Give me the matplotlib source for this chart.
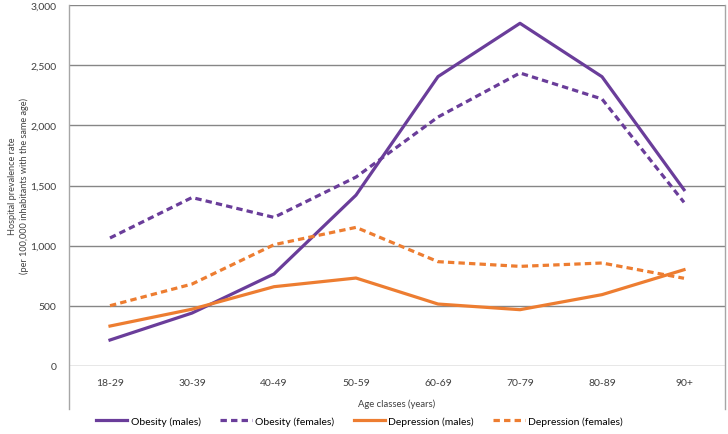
import matplotlib
matplotlib.use("Agg")
import matplotlib.pyplot as plt

plt.rcParams['font.family'] = ['Lato', 'DejaVu Sans']

age_classes = ["18-29", "30-39", "40-49", "50-59", "60-69", "70-79", "80-89", "90+"]
obesity_males = [216, 440, 765, 1420, 2405, 2848, 2404, 1465]
obesity_females = [1064, 1400, 1235, 1570, 2069, 2435, 2219, 1360]
depression_males = [332, 472, 659, 731, 515, 468, 593, 800]
depression_females = [501, 681, 1008, 1152, 867, 828, 856, 729]

purple = "#6A3D9A"
orange = "#ED7D31"
grid_col = "#868686"
text_col = "#404040"
fs = 7.5

fig = plt.figure(figsize=(7.28, 4.35), dpi=100)
ax = fig.add_axes([69 / 728, 1 - 367 / 435, 656 / 728, 361 / 435])

x = range(len(age_classes))
ax.plot(x, obesity_males, color=purple, lw=2.3, label="Obesity (males)")
ax.plot(x, obesity_females, color=purple, lw=2.3, ls=(0, (2, 1.3)), label="Obesity (females)")
ax.plot(x, depression_males, color=orange, lw=2.3, label="Depression (males)")
ax.plot(x, depression_females, color=orange, lw=2.3, ls=(0, (2, 1.3)), label="Depression (females)")

ax.set_xlim(-0.5, len(age_classes) - 0.5)
ax.set_ylim(0, 3000)
ax.set_yticks(range(0, 3001, 500))
ax.set_yticklabels([f"{v:,}" for v in range(0, 3001, 500)])
ax.set_xticks(list(x))
ax.set_xticklabels(age_classes)
ax.yaxis.grid(True, color=grid_col, lw=1)
ax.set_axisbelow(True)
ax.tick_params(length=0, labelsize=fs, colors=text_col)
ax.tick_params(axis="x", pad=9)
ax.tick_params(axis="y", pad=9)

for side in ["top", "bottom", "left", "right"]:
    ax.spines[side].set_visible(False)
# plot-area border extends below the zero line
for xpos in [0, 1]:
    ax.plot([xpos, xpos], [1, -0.119], transform=ax.transAxes, color="#A6A6A6",
            lw=1, clip_on=False)

ax.set_xlabel("Age classes (years)", fontsize=6.8, labelpad=8, color=text_col)
ax.set_ylabel("Hospital prevalence rate\n(per 100,000 inhabitants with the same age)",
              fontsize=6.6, color=text_col, linespacing=1.35)
ax.yaxis.set_label_coords(-0.061, 0.5)

ax.legend(loc="center left", bbox_to_anchor=(0.035, -0.152), ncol=4, frameon=False,
          fontsize=fs, handlelength=3.0, columnspacing=1.9, handletextpad=0.3,
          borderaxespad=0)

fig.savefig("out.png", dpi=100)
